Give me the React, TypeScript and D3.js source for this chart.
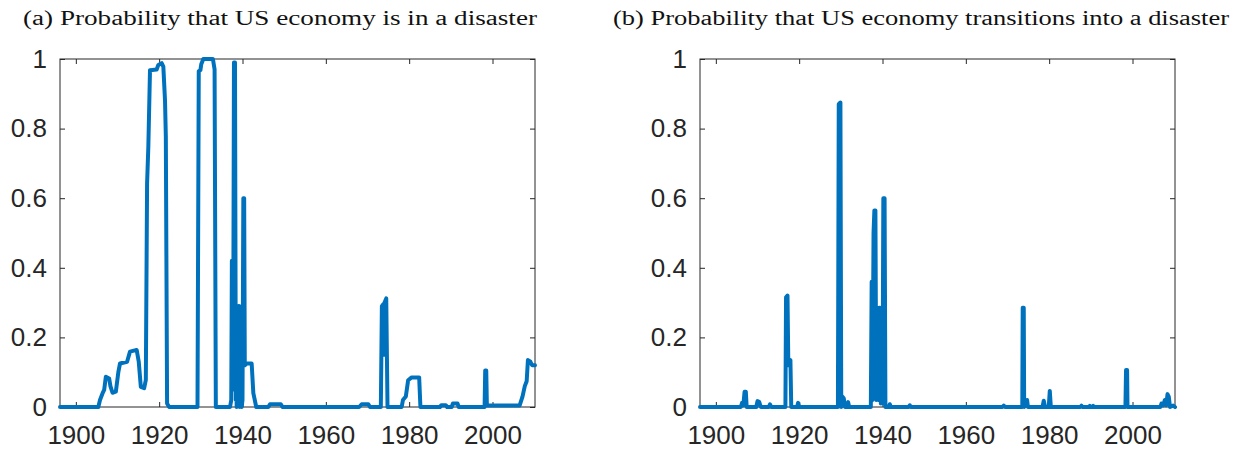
import React, { useEffect, useRef } from "react";
import * as d3 from "d3";

const xTicks = [1900, 1920, 1940, 1960, 1980, 2000];
const yTicks = [0, 0.2, 0.4, 0.6, 0.8, 1];
const xDomain = [1896.2, 2010.2];

const titles = [
  "(a) Probability that US economy is in a disaster",
  "(b) Probability that US economy transitions into a disaster",
];

// (a) probability of being in a disaster
const yearsA = [
  1896.2, 1905.4, 1905.8, 1906.4, 1906.8, 1907.2, 1908.0, 1908.3, 1908.8, 1909.6,
  1910.2, 1910.6, 1912.3, 1913.0, 1914.6, 1915.1, 1915.6, 1916.4, 1916.8, 1917.1,
  1917.4, 1917.8, 1919.4, 1919.8, 1920.6, 1921.0, 1921.4, 1921.6, 1921.9, 1922.4,
  1929.2, 1929.5, 1929.9, 1930.1, 1930.6, 1932.9, 1933.3, 1933.6, 1937.0, 1937.3,
  1937.45, 1937.6, 1937.8, 1937.95, 1938.2, 1938.4, 1938.5, 1938.6, 1938.75, 1938.9,
  1939.05, 1939.2, 1939.35, 1939.5, 1939.65, 1939.8, 1940.0, 1940.2, 1940.4, 1940.55,
  1941.0, 1942.2, 1942.6, 1943.3, 1946.2, 1946.6, 1949.2, 1949.6, 1968.0, 1968.6,
  1970.2, 1970.6, 1973.2, 1973.45, 1973.75, 1973.9, 1974.1, 1974.5, 1974.8, 1978.2,
  1978.5, 1979.2, 1979.75, 1980.6, 1982.4, 1982.7, 1987.4, 1987.7, 1988.8, 1989.1,
  1990.2, 1990.5, 1991.6, 1991.9, 1998.1, 1998.25, 1998.5, 1998.65, 2006.5, 2007.2,
  2007.75, 2008.2, 2008.5, 2009.1, 2009.5, 2010.2,
];
const probA = [
  0, 0, 0.02, 0.039, 0.049, 0.087, 0.082, 0.06, 0.041, 0.044,
  0.1, 0.125, 0.13, 0.159, 0.164, 0.13, 0.058, 0.054, 0.078, 0.643,
  0.748, 0.968, 0.97, 0.983, 0.988, 0.978, 0.882, 0.777, 0.01, 0,
  0, 0.965, 0.968, 0.985, 1.0, 1.0, 0.97, 0, 0, 0.02,
  0.42, 0.05, 0.3, 0.99, 0.99, 0.02, 0.28, 0.0, 0.29, 0.01,
  0.29, 0.29, 0.0, 0.28, 0.02, 0.0, 0.02, 0.6, 0.6, 0.12,
  0.125, 0.125, 0.04, 0, 0, 0.008, 0.008, 0, 0, 0.008,
  0.008, 0, 0, 0.29, 0.295, 0.15, 0.3, 0.312, 0, 0,
  0.02, 0.03, 0.077, 0.085, 0.085, 0, 0, 0.005, 0.005, 0,
  0, 0.01, 0.01, 0, 0, 0.105, 0.105, 0.004, 0.004, 0.03,
  0.06, 0.074, 0.135, 0.13, 0.12, 0.12,
];

// (b) probability of transitioning into a disaster
const yearsB = [
  1896.2, 1906.0, 1906.3, 1906.6, 1906.9, 1907.2, 1907.4, 1909.7, 1910.0, 1910.4,
  1910.8, 1912.7, 1913.0, 1913.3, 1916.7, 1916.85, 1917.2, 1917.4, 1917.6, 1917.9,
  1918.1, 1919.5, 1919.75, 1920.0, 1929.3, 1929.5, 1929.9, 1930.1, 1930.35, 1930.7,
  1931.0, 1931.5, 1931.75, 1932.0, 1937.2, 1937.4, 1937.6, 1937.85, 1938.05, 1938.3,
  1938.5, 1938.8, 1939.0, 1939.2, 1939.4, 1939.6, 1939.8, 1940.0, 1940.2, 1940.5,
  1940.7, 1941.5, 1941.75, 1942.0, 1946.3, 1946.55, 1946.8, 1968.8, 1969.1, 1969.4,
  1973.55, 1973.65, 1973.9, 1974.0, 1974.5, 1974.7, 1974.9, 1978.4, 1978.7, 1979.0,
  1979.9, 1980.15, 1980.4, 1987.5, 1987.75, 1988.0, 1989.5, 1989.75, 1990.0, 1990.3,
  1990.55, 1990.8, 1998.3, 1998.45, 1998.7, 1998.8, 2006.7, 2006.95, 2007.4, 2007.75,
  2008.1, 2008.4, 2008.7, 2009.0, 2009.75, 2010.2,
];
const probB = [
  0, 0, 0.012, 0.005, 0.044, 0.044, 0, 0, 0.017, 0.015,
  0, 0, 0.008, 0, 0, 0.315, 0.32, 0.12, 0.13, 0.135,
  0, 0, 0.012, 0, 0, 0.87, 0.875, 0, 0.03, 0.025,
  0, 0, 0.014, 0, 0, 0.36, 0.02, 0.5, 0.565, 0.565,
  0.02, 0.28, 0.02, 0.285, 0.285, 0.01, 0.1, 0.01, 0.6, 0.6,
  0, 0, 0.008, 0, 0, 0.005, 0, 0, 0.004, 0,
  0, 0.285, 0.285, 0, 0.01, 0.02, 0, 0, 0.018, 0,
  0, 0.046, 0, 0, 0.004, 0, 0, 0.003, 0, 0,
  0.003, 0, 0, 0.106, 0.106, 0, 0, 0.01, 0.005, 0.02,
  0.005, 0.037, 0.03, 0, 0.004, 0,
];

const panels = [
  { years: yearsA, probs: probA, left: 60, right: 535, titleX: 23, titleW: 514 },
  { years: yearsB, probs: probB, left: 700, right: 1175, titleX: 613, titleW: 616 },
];

const App = () => {
  const svgRef = useRef<SVGSVGElement>(null);

  useEffect(() => {
    const width = 1249;
    const height = 457;
    const top = 59;
    const bottom = 407;
    const axisColor = "#262626";
    const tickFont = "'Liberation Sans', Arial, sans-serif";

    const svg = d3.select(svgRef.current).attr("width", width).attr("height", height);
    svg.selectAll("*").remove();

    panels.forEach((p, i) => {
      const x = d3.scaleLinear().domain(xDomain).range([p.left, p.right]);
      const y = d3.scaleLinear().domain([0, 1]).range([bottom, top]);
      const g = svg.append("g");

      g.append("text")
        .attr("x", p.titleX)
        .attr("y", 25)
        .attr("font-family", "'Liberation Serif', 'Times New Roman', serif")
        .attr("font-size", 20)
        .attr("fill", "#111")
        .attr("textLength", p.titleW)
        .attr("lengthAdjust", "spacingAndGlyphs")
        .text(titles[i]);

      g.append("rect")
        .attr("x", p.left)
        .attr("y", top)
        .attr("width", p.right - p.left)
        .attr("height", bottom - top)
        .attr("fill", "white")
        .attr("stroke", axisColor)
        .attr("stroke-width", 1);

      const styleAxis = (sel: any) => {
        sel.select(".domain").remove();
        sel.selectAll("line").attr("stroke", axisColor);
        sel.selectAll("text")
          .attr("font-family", tickFont)
          .attr("font-size", 26)
          .attr("fill", axisColor);
      };

      g.append("g")
        .attr("transform", `translate(0,${bottom})`)
        .call(d3.axisBottom(x).tickValues(xTicks).tickFormat(d3.format("d")).tickSizeInner(-5).tickSizeOuter(0).tickPadding(19))
        .call(styleAxis);

      g.append("g")
        .attr("transform", `translate(0,${top})`)
        .call(d3.axisTop(x).tickValues(xTicks).tickFormat(() => "").tickSizeInner(-5).tickSizeOuter(0))
        .call(styleAxis);

      g.append("g")
        .attr("transform", `translate(${p.left},0)`)
        .call(d3.axisLeft(y).tickValues(yTicks).tickFormat((d: any) => (d === 0 || d === 1 ? d3.format("d")(d) : d3.format(".1f")(d))).tickSizeInner(-5).tickSizeOuter(0).tickPadding(13))
        .call(styleAxis);

      g.append("g")
        .attr("transform", `translate(${p.right},0)`)
        .call(d3.axisRight(y).tickValues(yTicks).tickFormat(() => "").tickSizeInner(-5).tickSizeOuter(0))
        .call(styleAxis);

      const pts = p.years.map((yr, k) => [yr, p.probs[k]] as [number, number]);
      g.append("path")
        .datum(pts)
        .attr("fill", "none")
        .attr("stroke", "#0072BD")
        .attr("stroke-width", 4)
        .attr("stroke-linejoin", "round")
        .attr("stroke-linecap", "round")
        .attr("d", d3.line<[number, number]>().x(d => x(d[0])).y(d => y(d[1])));
    });
  }, []);

  return (
    <svg ref={svgRef} style={{ position: "absolute", left: 0, top: 0, background: "white" }}></svg>
  );
};

export default App;
